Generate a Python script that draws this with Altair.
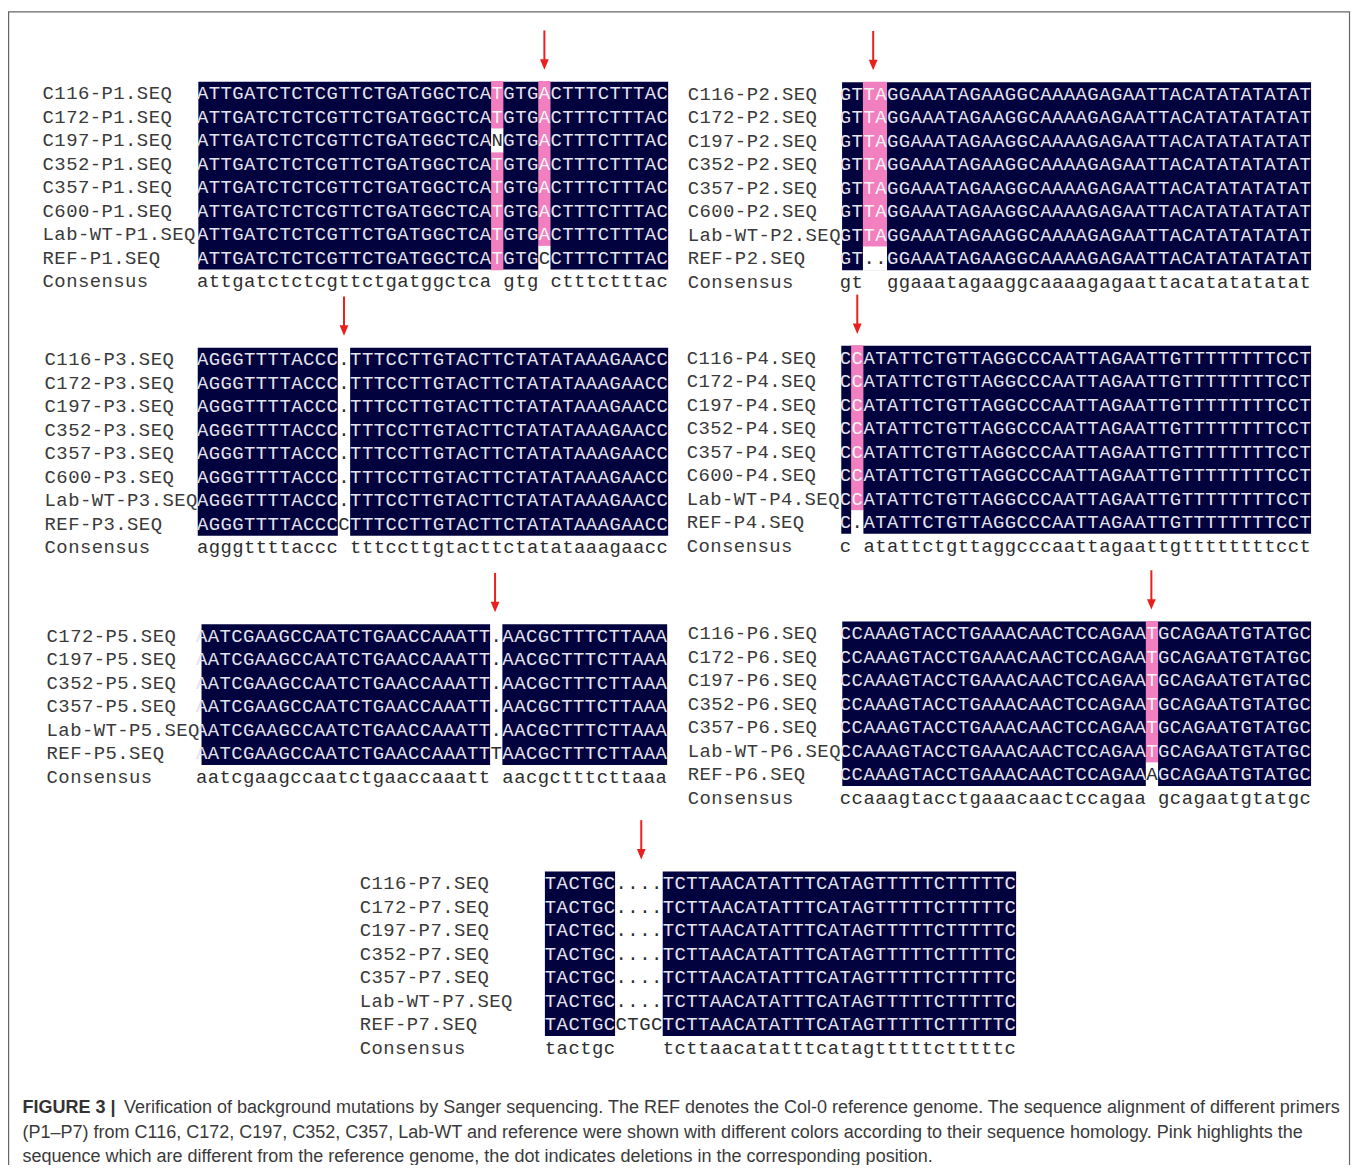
import altair as alt
import pandas as pd
from collections import Counter

# ---------------- data ----------------
P1_LABELS = ["C116-P1.SEQ", "C172-P1.SEQ", "C197-P1.SEQ", "C352-P1.SEQ",
             "C357-P1.SEQ", "C600-P1.SEQ", "Lab-WT-P1.SEQ", "REF-P1.SEQ"]
P1_ROWS = ["ATTGATCTCTCGTTCTGATGGCTCATGTGACTTTCTTTAC",
           "ATTGATCTCTCGTTCTGATGGCTCATGTGACTTTCTTTAC",
           "ATTGATCTCTCGTTCTGATGGCTCANGTGACTTTCTTTAC",
           "ATTGATCTCTCGTTCTGATGGCTCATGTGACTTTCTTTAC",
           "ATTGATCTCTCGTTCTGATGGCTCATGTGACTTTCTTTAC",
           "ATTGATCTCTCGTTCTGATGGCTCATGTGACTTTCTTTAC",
           "ATTGATCTCTCGTTCTGATGGCTCATGTGACTTTCTTTAC",
           "ATTGATCTCTCGTTCTGATGGCTCATGTGCCTTTCTTTAC"]
P1_CONSENSUS = "attgatctctcgttctgatggctca gtg ctttctttac"

P2_LABELS = ["C116-P2.SEQ", "C172-P2.SEQ", "C197-P2.SEQ", "C352-P2.SEQ",
             "C357-P2.SEQ", "C600-P2.SEQ", "Lab-WT-P2.SEQ", "REF-P2.SEQ"]
P2_ROWS = ["GTTAGGAAATAGAAGGCAAAAGAGAATTACATATATATAT"] * 7 + \
          ["GT..GGAAATAGAAGGCAAAAGAGAATTACATATATATAT"]
P2_CONSENSUS = "gt  ggaaatagaaggcaaaagagaattacatatatatat"

P3_LABELS = ["C116-P3.SEQ", "C172-P3.SEQ", "C197-P3.SEQ", "C352-P3.SEQ",
             "C357-P3.SEQ", "C600-P3.SEQ", "Lab-WT-P3.SEQ", "REF-P3.SEQ"]
P3_ROWS = ["AGGGTTTTACCC.TTTCCTTGTACTTCTATATAAAGAACC"] * 7 + \
          ["AGGGTTTTACCCCTTTCCTTGTACTTCTATATAAAGAACC"]
P3_CONSENSUS = "agggttttaccc tttccttgtacttctatataaagaacc"

P4_LABELS = ["C116-P4.SEQ", "C172-P4.SEQ", "C197-P4.SEQ", "C352-P4.SEQ",
             "C357-P4.SEQ", "C600-P4.SEQ", "Lab-WT-P4.SEQ", "REF-P4.SEQ"]
P4_ROWS = ["CCATATTCTGTTAGGCCCAATTAGAATTGTTTTTTTTCCT"] * 7 + \
          ["C.ATATTCTGTTAGGCCCAATTAGAATTGTTTTTTTTCCT"]
P4_CONSENSUS = "c atattctgttaggcccaattagaattgttttttttcct"

P5_LABELS = ["C172-P5.SEQ", "C197-P5.SEQ", "C352-P5.SEQ", "C357-P5.SEQ",
             "Lab-WT-P5.SEQ", "REF-P5.SEQ"]
P5_ROWS = ["AATCGAAGCCAATCTGAACCAAATT.AACGCTTTCTTAAA"] * 5 + \
          ["AATCGAAGCCAATCTGAACCAAATTTAACGCTTTCTTAAA"]
P5_CONSENSUS = "aatcgaagccaatctgaaccaaatt aacgctttcttaaa"

P6_LABELS = ["C116-P6.SEQ", "C172-P6.SEQ", "C197-P6.SEQ", "C352-P6.SEQ",
             "C357-P6.SEQ", "Lab-WT-P6.SEQ", "REF-P6.SEQ"]
P6_ROWS = ["CCAAAGTACCTGAAACAACTCCAGAATGCAGAATGTATGC"] * 6 + \
          ["CCAAAGTACCTGAAACAACTCCAGAAAGCAGAATGTATGC"]
P6_CONSENSUS = "ccaaagtacctgaaacaactccagaa gcagaatgtatgc"

P7_LABELS = ["C116-P7.SEQ", "C172-P7.SEQ", "C197-P7.SEQ", "C352-P7.SEQ",
             "C357-P7.SEQ", "Lab-WT-P7.SEQ", "REF-P7.SEQ"]
P7_ROWS = ["TACTGC....TCTTAACATATTTCATAGTTTTTCTTTTTC"] * 6 + \
          ["TACTGCCTGCTCTTAACATATTTCATAGTTTTTCTTTTTC"]
P7_CONSENSUS = "tactgc    tcttaacatatttcatagtttttctttttc"

# column (in alignment positions) that each red arrow points at
ARROW_COLUMN = {"P1": 29.5, "P2": 2.85, "P3": 12.5, "P4": 1.5,
                "P5": 25.4, "P6": 26.45, "P7": 8.2}

CAPTION_BOLD = "FIGURE 3 |"
CAPTION_LINES = [
    "Verification of background mutations by Sanger sequencing. The REF denotes the Col-0 reference genome. The sequence alignment of different primers",
    "(P1\u2013P7) from C116, C172, C197, C352, C357, Lab-WT and reference were shown with different colors according to their sequence homology. Pink highlights the",
    "sequence which are different from the reference genome, the dot indicates deletions in the corresponding position.",
]

PANELS = {
    "P1": (P1_LABELS, P1_ROWS, P1_CONSENSUS),
    "P2": (P2_LABELS, P2_ROWS, P2_CONSENSUS),
    "P3": (P3_LABELS, P3_ROWS, P3_CONSENSUS),
    "P4": (P4_LABELS, P4_ROWS, P4_CONSENSUS),
    "P5": (P5_LABELS, P5_ROWS, P5_CONSENSUS),
    "P6": (P6_LABELS, P6_ROWS, P6_CONSENSUS),
    "P7": (P7_LABELS, P7_ROWS, P7_CONSENSUS),
}

# ---------------- layout (page pixel units) ----------------
W, H = 1350, 1157
CW, RH = 11.84, 23.6
LAYOUT = {
    "P1": dict(label_x=42.5, x0=197.5, left=199.2, y0=79.4),
    "P2": dict(label_x=690.5, x0=843.3, left=845.8, y0=80.0),
    "P3": dict(label_x=44.5, x0=197.5, left=198.6, y0=346.6),
    "P4": dict(label_x=689.5, x0=843.3, left=845.0, y0=344.8),
    "P5": dict(label_x=46.5, x0=196.5, left=202.4, y0=624.3),
    "P6": dict(label_x=690.5, x0=843.3, left=846.0, y0=621.7),
    "P7": dict(label_x=361.0, x0=547.0, left=547.3, y0=872.7),
}


def classify(rows):
    n, L = len(rows), len(rows[0])
    cls = [[None] * L for _ in rows]
    for j in range(L):
        col = [r[j] for r in rows]
        nongap = [c for c in col if c != "."]
        if len(nongap) == n and len(set(col)) == 1:
            for i in range(n):
                cls[i][j] = "cons"
            continue
        if nongap:
            m, k = Counter(nongap).most_common(1)[0]
            if k / n >= 0.75:
                for i in range(n):
                    cls[i][j] = "pink" if col[i] == m else "none"
                continue
        for i in range(n):
            cls[i][j] = "none"
    return cls


def overlay_rects(cls):
    """Merge non-conserved cells into rectangles (vertical runs, then across columns)."""
    n, L = len(cls), len(cls[0])
    out, open_ = [], {}
    for j in range(L + 1):
        runs = set()
        if j < L:
            i = 0
            while i < n:
                c = cls[i][j]
                k = i
                while k < n and cls[k][j] == c:
                    k += 1
                if c != "cons":
                    runs.add((c, i, k))
                i = k
        for key in list(open_):
            if key not in runs:
                out.append((key[0], open_.pop(key), j, key[1], key[2]))
        for key in runs:
            open_.setdefault(key, j)
    return out


block_recs, over_recs, char_recs, label_recs, arrow_recs = [], [], [], [], []
for name, (labels, rows, consensus) in PANELS.items():
    lay = LAYOUT[name]
    x0, y0 = lay["x0"], lay["y0"]
    n, L = len(rows), len(rows[0])
    cls = classify(rows)
    block_recs.append(dict(x=lay["left"], x2=x0 + L * CW, y=y0, y2=y0 + n * RH))
    for c, j0, j1, i0, i1 in sorted(overlay_rects(cls), key=lambda r: r[0] == "none"):
        over_recs.append(dict(x=x0 + j0 * CW - 0.25, x2=x0 + j1 * CW + 0.25,
                              y=y0 + i0 * RH - (0.25 if i0 > 0 else 0.6),
                              y2=y0 + i1 * RH + (0.25 if i1 < n else 0.6), c=c))
    row_names = list(labels) + ["Consensus"]
    for i, lab in enumerate(row_names):
        yc = y0 + (i + 0.5) * RH
        for k, ch in enumerate(lab):
            label_recs.append(dict(x=lay["label_x"] + (k + 0.5) * CW, y=yc, t=ch))
    for i, seq in enumerate(rows):
        yc = y0 + (i + 0.5) * RH
        for j, ch in enumerate(seq):
            char_recs.append(dict(x=x0 + (j + 0.5) * CW, y=yc, t=ch, c=cls[i][j]))
    yc = y0 + (n + 0.5) * RH
    for j, ch in enumerate(consensus):
        if ch != " ":
            char_recs.append(dict(x=x0 + (j + 0.5) * CW, y=yc, t=ch, c="none"))
    ax = x0 + ARROW_COLUMN[name] * CW
    arrow_recs.append(dict(x=ax, y=y0 - 51.5, y2=y0 - 18.0, tip=y0 - 12.0))

blocks = pd.DataFrame(block_recs)
overs = pd.DataFrame(over_recs)
chars = pd.DataFrame(char_recs)
labels_df = pd.DataFrame(label_recs)
arrows = pd.DataFrame(arrow_recs)

CAP_SIZE = 18.1
cap_bold = pd.DataFrame([dict(x=22.5, y=1110.5, t=CAPTION_BOLD)])
cap_rest = pd.DataFrame([dict(x=124.5, y=1110.5, t=CAPTION_LINES[0]),
                         dict(x=22.5, y=1135.5, t=CAPTION_LINES[1]),
                         dict(x=22.5, y=1159.5, t=CAPTION_LINES[2])])
frame = pd.DataFrame([dict(x=8.6, x2=1355.5, y=9.4, y2=1400.0)])

xs = alt.Scale(domain=[8, 8 + W], nice=False, zero=False)
ys = alt.Scale(domain=[8, 8 + H], nice=False, zero=False, reverse=True)


def X(f):
    return alt.X(f, type="quantitative", scale=xs, axis=None)


def Y(f):
    return alt.Y(f, type="quantitative", scale=ys, axis=None)


MONO = "Liberation Mono"
NAVY, PINK = "#02023e", "#f27fbf"

frame_layer = alt.Chart(frame).mark_rect(fill="white", fillOpacity=0, stroke="#666666",
                                         strokeWidth=1.2).encode(
    x=X("x"), x2="x2", y=Y("y"), y2="y2")

block_layer = alt.Chart(blocks).mark_rect(color=NAVY, strokeWidth=0).encode(
    x=X("x"), x2="x2", y=Y("y"), y2="y2")

over_layer = alt.Chart(overs).mark_rect(strokeWidth=0).encode(
    x=X("x"), x2="x2", y=Y("y"), y2="y2",
    color=alt.Color("c:N", scale=alt.Scale(domain=["pink", "none"],
                                           range=[PINK, "#ffffff"]), legend=None))

char_layer = alt.Chart(chars).mark_text(font=MONO, fontSize=19, align="center",
                                        baseline="middle").encode(
    x=X("x"), y=Y("y"), text="t:N",
    color=alt.Color("c:N", scale=alt.Scale(domain=["cons", "pink", "none"],
                                           range=["#e4e4ee", "#f4f4f4", "#2e2e2e"]),
                    legend=None))

label_layer = alt.Chart(labels_df).mark_text(font=MONO, fontSize=19, align="center",
                                             baseline="middle", color="#3a3a3a").encode(
    x=X("x"), y=Y("y"), text="t:N")

arrow_shaft = alt.Chart(arrows).mark_rule(color="#e8211d", strokeWidth=2).encode(
    x=X("x"), y=Y("y"), y2="y2")
arrow_head = alt.Chart(arrows).mark_point(
    shape="M-0.42,-1L0,0L0.42,-1Z", filled=True, size=440, color="#e8211d", opacity=1,
    strokeWidth=0).encode(x=X("x"), y=Y("tip"))

cap_bold_layer = alt.Chart(cap_bold).mark_text(font="Liberation Sans", fontSize=CAP_SIZE,
                                               fontWeight="bold", align="left",
                                               baseline="middle", color="#333333").encode(
    x=X("x"), y=Y("y"), text="t:N")
cap_layer = alt.Chart(cap_rest).mark_text(font="Liberation Sans", fontSize=CAP_SIZE,
                                          align="left", baseline="middle",
                                          color="#3a3a3a").encode(
    x=X("x"), y=Y("y"), text="t:N")

chart = alt.layer(frame_layer, block_layer, over_layer, char_layer, label_layer,
                  arrow_shaft, arrow_head, cap_bold_layer, cap_layer).resolve_scale(
    color="independent").properties(
    width=W, height=H, padding=0, background="white",
    autosize=alt.AutoSizeParams(type="none")
).configure_view(stroke=None)

chart.save("out.html", embed_options={"renderer": "svg", "actions": False})
